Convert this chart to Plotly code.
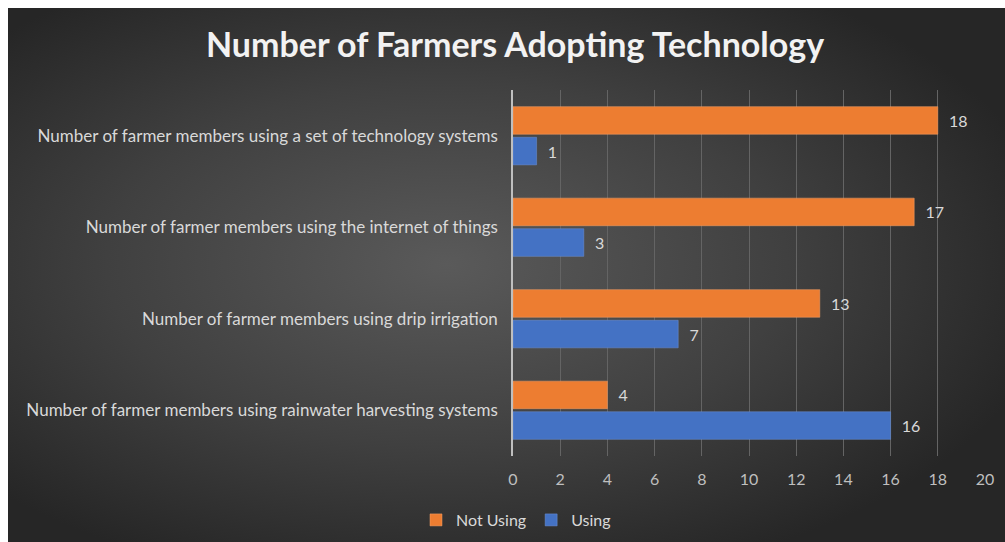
import base64
import plotly.graph_objects as go

categories = [
    "Number of farmer members using a set of technology systems",
    "Number of farmer members using the internet of things",
    "Number of farmer members using drip irrigation",
    "Number of farmer members using rainwater harvesting systems",
]
not_using = [18, 17, 13, 4]
using = [1, 3, 7, 16]
x_ticks = [0, 2, 4, 6, 8, 10, 12, 14, 16, 18, 20]

# page has an 8px body margin at top/left; figure coordinates = page - 8
W, H = 997, 534
L, R, T, B = 505, 20, 82, 86
pw, ph = W - L - R, H - T - B

svg = """<svg xmlns='http://www.w3.org/2000/svg' width='1000' height='540' viewBox='0 0 1000 540' preserveAspectRatio='none'>
<defs><radialGradient id='g' cx='44%' cy='48%' r='62%' fx='44%' fy='48%'>
<stop offset='0' stop-color='#5a5a5a'/><stop offset='0.55' stop-color='#404040'/><stop offset='1' stop-color='#262626'/>
</radialGradient></defs><rect width='1000' height='540' fill='url(#g)'/></svg>"""
src = "data:image/svg+xml;base64," + base64.b64encode(svg.encode()).decode()

font = "Lato, 'Open Sans', sans-serif"
pad = "\u00a0\u00a0"

fig = go.Figure()
fig.add_trace(go.Bar(
    y=categories, x=not_using, name="Not Using", orientation="h",
    marker=dict(color="#ED7D31", line=dict(color="#F4A36A", width=0.5)),
    texttemplate=pad + "%{x}", textposition="outside",
    textfont=dict(color="#d9d9d9", size=16, family=font), cliponaxis=False,
))
fig.add_trace(go.Bar(
    y=categories, x=using, name="Using", orientation="h",
    marker=dict(color="#4472C4", line=dict(color="#6F93D6", width=0.5)),
    texttemplate=pad + "%{x}", textposition="outside",
    textfont=dict(color="#d9d9d9", size=16, family=font), cliponaxis=False,
))

fig.update_layout(
    width=W, height=H,
    margin=dict(l=L, r=R, t=T, b=B),
    paper_bgcolor="#333333",
    plot_bgcolor="rgba(0,0,0,0)",
    images=[dict(source=src, xref="paper", yref="paper", x=-L / pw, y=(H - B) / ph,
                 sizex=W / pw, sizey=H / ph, sizing="stretch",
                 xanchor="left", yanchor="top", layer="below")],
    title=dict(text="<b>Number of Farmers Adopting Technology</b>", x=507 / W, xanchor="center",
               y=1 - 37 / H, yanchor="middle",
               font=dict(family=font, size=34, color="#f2f2f2")),
    barmode="group", bargap=0.33, bargroupgap=0.1,
    font=dict(family=font, color="#d9d9d9", size=16),
    xaxis=dict(range=[0, 20], tickvals=x_ticks, showgrid=True, gridcolor="#646464", gridwidth=1,
               zeroline=False, showline=False, tickfont=dict(color="#bfbfbf", size=16, family=font),
               ticks="", ticklabelstandoff=12, fixedrange=True),
    yaxis=dict(autorange="reversed", showline=True, linecolor="#bfbfbf", linewidth=1.5,
               ticks="", ticklabelstandoff=10, tickfont=dict(color="#d9d9d9", size=17, family=font),
               showgrid=False),
    legend=dict(orientation="h", x=508 / W, xanchor="center", xref="container",
                y=1 - 512 / H, yanchor="middle", yref="container",
                font=dict(color="#d9d9d9", size=16, family=font), bgcolor="rgba(0,0,0,0)",
                itemwidth=30, traceorder="normal"),
    showlegend=True,
)
fig.write_html("out.html", post_script="document.body.style.margin='8px 0 0 8px';document.body.style.overflow='hidden';")
